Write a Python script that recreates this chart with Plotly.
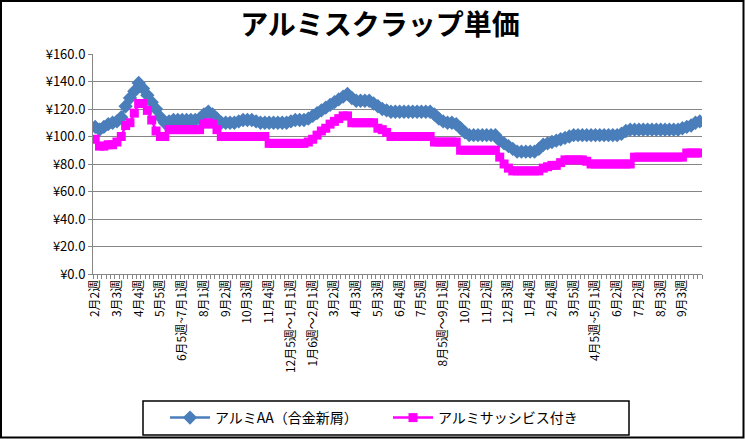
import plotly.graph_objects as go

tick_labels = [
    "2月2週", "3月3週", "4月4週", "5月5週", "6月5週~7月1週", "8月1週", "9月2週",
    "10月3週", "11月4週", "12月5週～1月1週", "1月6週～2月1週", "3月2週", "4月3週",
    "5月3週", "6月4週", "7月5週", "8月5週～9月1週", "10月2週", "11月2週", "12月3週",
    "1月4週", "2月4週", "3月5週", "4月5週~5月1週", "6月2週", "7月2週", "8月3週", "9月3週",
]

series_aa_name = "アルミAA（合金新屑）"
series_sash_name = "アルミサッシビス付き"

aa_values = [
    107, 105, 107, 109, 110, 111, 114, 122, 128, 133,
    139, 135, 130, 125, 120, 114, 110, 111, 112, 112,
    112, 112, 112, 112, 113, 116, 118, 116, 113, 110,
    110, 110, 110, 111, 112, 112, 112, 111, 110, 110,
    110, 110, 110, 110, 110, 111, 112, 112, 112, 113,
    115, 117, 119, 121, 123, 125, 127, 129, 131, 128,
    126, 126, 126, 126, 124, 122, 120, 119, 118, 118,
    118, 118, 118, 118, 118, 118, 118, 118, 116, 113,
    111, 110, 110, 109, 106, 103, 101, 101, 101, 101,
    101, 101, 101, 97, 95, 93, 91, 89, 89, 89,
    89, 89, 91, 94, 95, 96, 97, 98, 99, 100,
    101, 101, 101, 101, 101, 101, 101, 101, 101, 101,
    101, 102, 104, 105, 105, 105, 105, 105, 105, 105,
    105, 105, 105, 105, 105, 106, 107, 108, 110, 111,
]

sash_values = [
    98, 93, 93, 94, 94, 96, 100, 108, 110, 117,
    124, 124, 119, 112, 104, 100, 100, 105, 105, 105,
    105, 105, 105, 105, 105, 109, 110, 109, 105, 100,
    100, 100, 100, 100, 100, 100, 100, 100, 100, 100,
    95, 95, 95, 95, 95, 95, 95, 95, 95, 96,
    98, 101, 104, 106, 109, 111, 113, 115, 115, 110,
    110, 110, 110, 110, 110, 106, 105, 103, 100, 100,
    100, 100, 100, 100, 100, 100, 100, 100, 96, 96,
    96, 96, 96, 96, 90, 90, 90, 90, 90, 90,
    90, 90, 90, 85, 80, 77, 75, 75, 75, 75,
    75, 75, 75, 77, 78, 79, 79, 81, 83, 83,
    83, 83, 83, 82, 80, 80, 80, 80, 80, 80,
    80, 80, 80, 80, 85, 85, 85, 85, 85, 85,
    85, 85, 85, 85, 85, 85, 88, 88, 88, 88,
]

x_idx = list(range(len(aa_values)))
tick_positions = [i * 5 for i in range(len(tick_labels))]

FONT = "Noto Sans CJK JP"
BLUE = "#4A7EBB"
MAGENTA = "#FF00FF"

fig = go.Figure()
fig.add_trace(go.Scatter(
    x=x_idx, y=aa_values, mode="lines+markers", name=series_aa_name,
    line=dict(color=BLUE, width=2.5),
    marker=dict(symbol="diamond", size=11, color=BLUE, line=dict(width=0)),
))
fig.add_trace(go.Scatter(
    x=x_idx, y=sash_values, mode="lines+markers", name=series_sash_name,
    line=dict(color=MAGENTA, width=2.5),
    marker=dict(symbol="square", size=9, color=MAGENTA, line=dict(width=0)),
))

W, H = 745, 439
L, R, T, B = 93, 43, 54, 165
pw, ph = W - L - R, H - T - B


def px_x(p):
    return (p - L) / pw


def px_y(p):
    return (T + ph - p) / ph


fig.update_layout(
    width=W, height=H,
    margin=dict(l=L, r=R, t=T, b=B, autoexpand=False),
    paper_bgcolor="white", plot_bgcolor="white",
    font=dict(family=FONT, color="black", size=12),
    title=dict(text="<b>アルミスクラップ単価</b>", x=px_x(380), xref="paper",
               xanchor="center", y=1 - 25 / H, yanchor="middle",
               font=dict(family=FONT, size=28, color="black")),
    showlegend=True,
    legend=dict(
        orientation="h", x=px_x(388), xanchor="center",
        y=px_y(418), yanchor="middle",
        borderwidth=0, bgcolor="rgba(0,0,0,0)",
        font=dict(family=FONT, size=14, color="black"),
        entrywidth=168, itemwidth=40,
    ),
    xaxis=dict(
        range=[-0.5, len(aa_values) - 0.5], automargin=False,
        tickmode="array", tickvals=tick_positions, ticktext=tick_labels,
        tickangle=-90, tickfont=dict(family=FONT, size=12, color="black"),
        ticks="", showgrid=False, zeroline=False,
        showline=True, linecolor="#868686", linewidth=1,
        minor=dict(tickmode="linear", tick0=-0.5, dtick=1, ticks="outside",
                   ticklen=4, tickcolor="#868686", showgrid=False),
    ),
    yaxis=dict(
        range=[0, 160], dtick=20, tickprefix="¥", tickformat=".1f", automargin=False,
        tickfont=dict(family=FONT, size=13, color="black"),
        showgrid=True, gridcolor="#868686", gridwidth=1,
        zeroline=False, showline=True, linecolor="#868686", linewidth=1,
        ticks="outside", ticklen=4, tickcolor="#868686",
    ),
)

# legend box (white, covers long tick labels like the original)
fig.add_shape(
    type="rect", xref="paper", yref="paper",
    x0=px_x(143), x1=px_x(629), y0=px_y(435), y1=px_y(401),
    line=dict(color="black", width=1.5), fillcolor="white", layer="above",
)
# outer chart border
fig.add_shape(
    type="rect", xref="paper", yref="paper",
    x0=px_x(1), x1=px_x(W - 1.5), y0=px_y(H - 1.5), y1=px_y(1),
    line=dict(color="black", width=2), fillcolor="rgba(0,0,0,0)", layer="above",
)

fig.write_html(
    "out.html",
    config={"displayModeBar": False},
    post_script="document.body.style.margin='0';document.body.style.overflow='hidden';",
)
